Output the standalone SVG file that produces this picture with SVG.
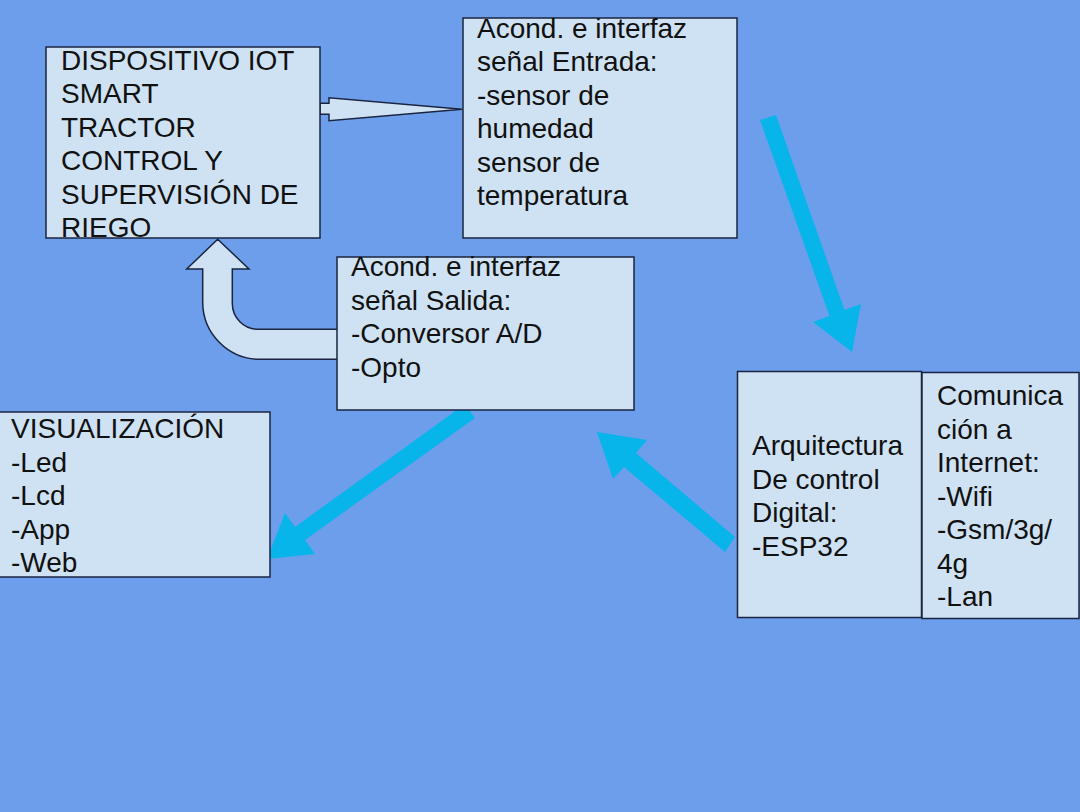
<svg xmlns="http://www.w3.org/2000/svg" width="1080" height="812" viewBox="0 0 1080 812">
<style>
.box{fill:#cfe2f3;stroke:#1a2440;stroke-width:1.5}
.t{font-family:"Liberation Sans",Arial,sans-serif;font-size:28px;fill:#111}
.hollow{fill:#cfe2f3;stroke:#1a2440;stroke-width:1.5;stroke-linejoin:miter}
.cyan{fill:#08b5ea;stroke:none}
</style>
<rect x="0" y="0" width="1080" height="812" fill="#6d9eeb"/>
<g id="connectors">
<polygon class="hollow" points="320,103.3 329,103.3 329,97.7 462,109.3 329,120.7 329,114.3 320,114.3"/>
<path class="hollow" d="M337,329.3 L258,329.3 A25.7,25.7 0 0 1 232.3,303.6 L232.3,269 L249,269 L217.7,239.3 L186.7,269 L202.7,269 L202.7,302 A57.3,57.3 0 0 0 260,359.3 L337,359.3"/>
<polygon class="cyan" points="760,120 776,115 844.5,310 861,304 852,352 813,322 829.5,316"/>
<polygon class="cyan" points="465,404 475,418 305,540 315,554 267,559 285,513 295,527"/>
<polygon class="cyan" points="735,537 636,453 647,440 597,432 613,479 624,467 725,552"/>
</g>
<g id="node-dispositivo">
<rect class="box" x="46" y="47" width="274" height="191"/>
<text class="t" x="61" y="69.5">DISPOSITIVO IOT</text>
<text class="t" x="61" y="103">SMART</text>
<text class="t" x="61" y="136.5">TRACTOR</text>
<text class="t" x="61" y="170">CONTROL Y</text>
<text class="t" x="61" y="203.5">SUPERVISIÓN DE</text>
<text class="t" x="61" y="237">RIEGO</text>
</g>
<g id="node-entrada">
<rect class="box" x="463" y="18" width="274" height="220"/>
<text class="t" x="477" y="38">Acond. e interfaz</text>
<text class="t" x="477" y="71">señal Entrada:</text>
<text class="t" x="477" y="105">-sensor de</text>
<text class="t" x="477" y="138">humedad</text>
<text class="t" x="477" y="172">sensor de</text>
<text class="t" x="477" y="205">temperatura</text>
</g>
<g id="node-salida">
<rect class="box" x="337" y="257" width="297" height="153"/>
<text class="t" x="351" y="276">Acond. e interfaz</text>
<text class="t" x="351" y="310">señal Salida:</text>
<text class="t" x="351" y="343">-Conversor A/D</text>
<text class="t" x="351" y="377">-Opto</text>
</g>
<g id="node-visualizacion">
<rect class="box" x="-1" y="412" width="271" height="165"/>
<text class="t" x="11" y="438">VISUALIZACIÓN</text>
<text class="t" x="11" y="471.5">-Led</text>
<text class="t" x="11" y="505">-Lcd</text>
<text class="t" x="11" y="538.5">-App</text>
<text class="t" x="11" y="572">-Web</text>
</g>
<g id="node-arquitectura">
<rect class="box" x="737.5" y="371.5" width="184" height="246"/>
<text class="t" x="752" y="455">Arquitectura</text>
<text class="t" x="752" y="488.5">De control</text>
<text class="t" x="752" y="522">Digital:</text>
<text class="t" x="752" y="555.5">-ESP32</text>
</g>
<g id="node-comunicacion">
<rect class="box" x="922" y="372.5" width="157" height="246"/>
<text class="t" x="937" y="405">Comunica</text>
<text class="t" x="937" y="438.5">ción a</text>
<text class="t" x="937" y="472">Internet:</text>
<text class="t" x="937" y="505.5">-Wifi</text>
<text class="t" x="937" y="539">-Gsm/3g/</text>
<text class="t" x="937" y="572.5">4g</text>
<text class="t" x="937" y="606">-Lan</text>
</g>
</svg>
